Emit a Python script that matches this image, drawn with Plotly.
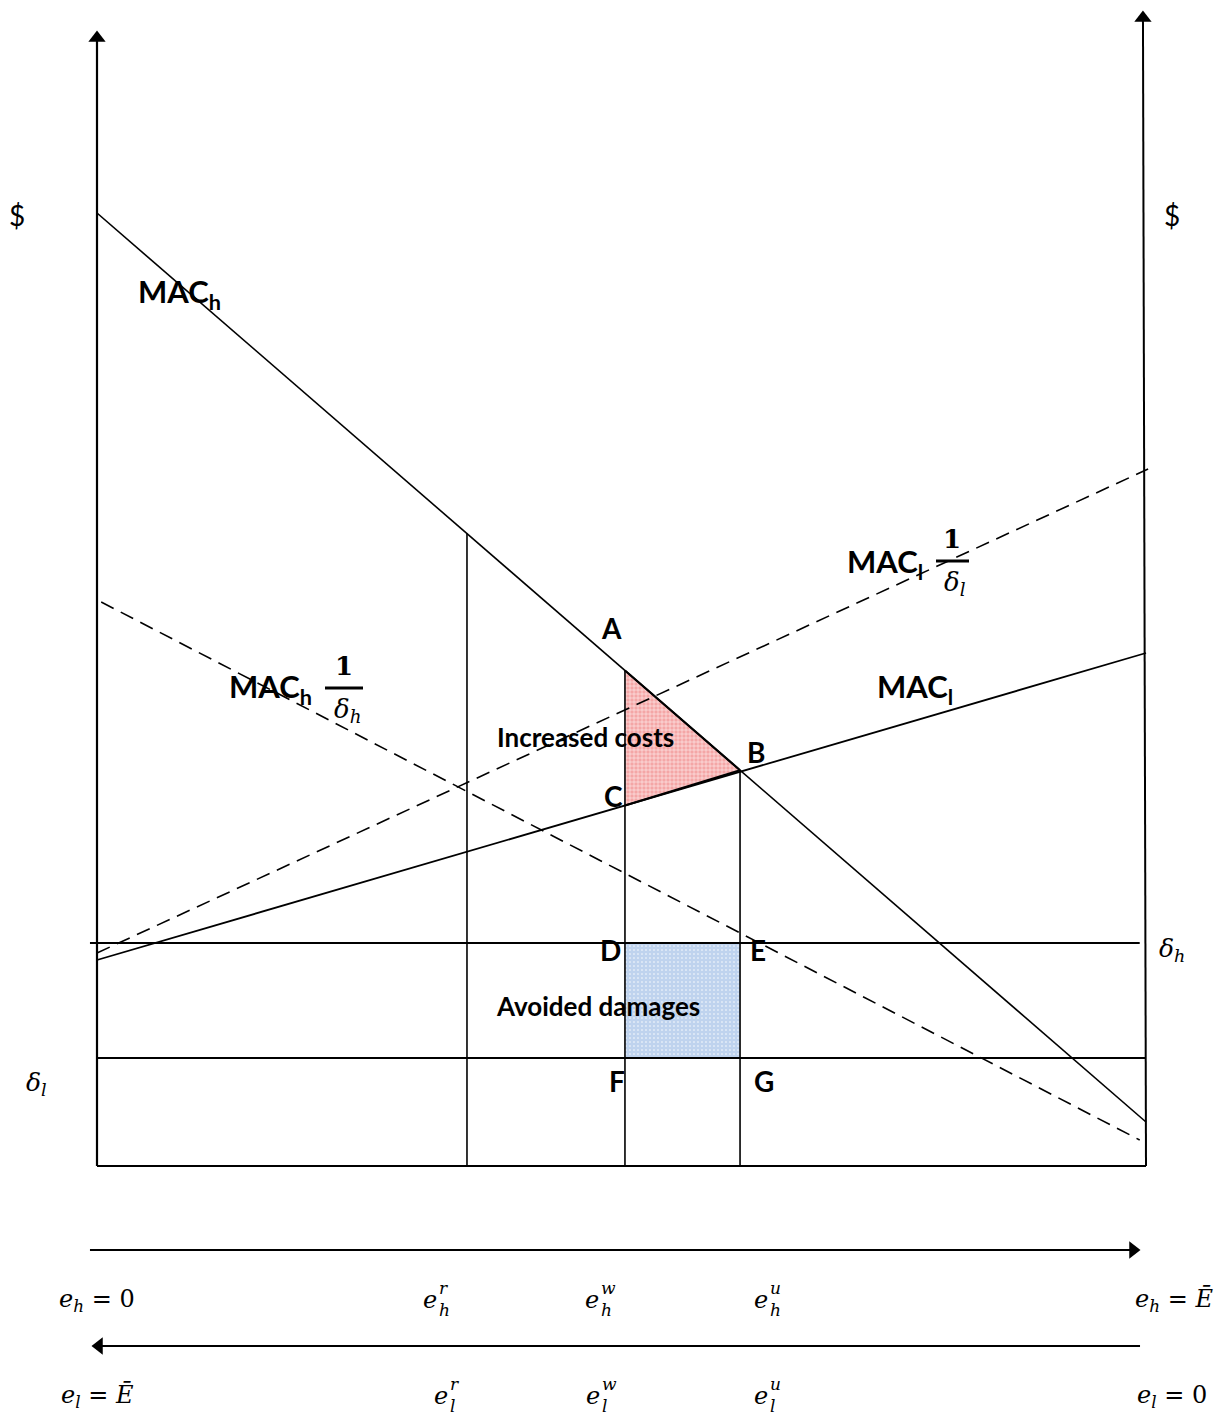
import plotly.graph_objects as go

W, H = 1229, 1422
PAGE_MARGIN = 8   # default body margin of the html page

# ---------------- data (economic units) ----------------
# x: emissions of high-damage source e_h, 0 .. 100 (= E-bar)
# y: dollars, 0 at the baseline
X_RANGE = [-8.484, 108.675]
Y_RANGE = [-26.4, 115.8]

E_R, E_W, E_U = 35.27, 50.33, 61.3          # e^r, e^w, e^u
MAC_H_X, MAC_H_Y = [0, 100], [95.3, 4.4]        # MAC_h
MAC_L_X, MAC_L_Y = [0, 100], [20.6, 51.3]       # MAC_l
MAC_L_ADJ_X, MAC_L_ADJ_Y = [0, 100.2], [21.3, 69.7]   # MAC_l / delta_l
MAC_H_ADJ_X, MAC_H_ADJ_Y = [0.4, 99.4], [56.4, 2.6]   # MAC_h / delta_h
DELTA_H, DELTA_L = 22.3, 10.8
DELTA_H_X = [-0.67, 99.4]
X_MAX = 100

LEFT_AXIS_TOP = 112.8
RIGHT_AXIS_TOP_X, RIGHT_AXIS_TOP = 99.71, 114.8
ARROW_H_Y, ARROW_L_Y = -8.4, -18.0
ARROW_H_X = [-0.67, 98.76]
ARROW_L_X = [99.43, 0.19]


def lin(xs, ys, x):
    return ys[0] + (ys[1] - ys[0]) * (x - xs[0]) / (xs[1] - xs[0])


A = (E_W, lin(MAC_H_X, MAC_H_Y, E_W))
B = (E_U, lin(MAC_H_X, MAC_H_Y, E_U))
C = (E_W, lin(MAC_L_X, MAC_L_Y, E_W))
R_TOP = lin(MAC_H_X, MAC_H_Y, E_R)

BLACK = "black"
fig = go.Figure()


def line(xs, ys, width=1.5, dash=None):
    fig.add_trace(go.Scatter(x=xs, y=ys, mode="lines",
                             line=dict(color=BLACK, width=width, dash=dash),
                             hoverinfo="skip"))


# shaded areas
fig.add_trace(go.Scatter(x=[A[0], B[0], C[0], A[0]], y=[A[1], B[1], C[1], A[1]],
                         mode="lines", fill="toself", line=dict(width=0),
                         fillcolor="#F4A8A8",
                         fillpattern=dict(shape="+", bgcolor="#F4A6A6", fgcolor="white",
                                          size=4, solidity=0.22, fillmode="replace"),
                         hoverinfo="skip"))
fig.add_trace(go.Scatter(x=[E_W, E_U, E_U, E_W, E_W], y=[DELTA_H, DELTA_H, DELTA_L, DELTA_L, DELTA_H],
                         mode="lines", fill="toself", line=dict(width=0),
                         fillcolor="#C3D6EF",
                         fillpattern=dict(shape=".", bgcolor="#BFD3EE", fgcolor="white",
                                          size=4, solidity=0.12, fillmode="replace"),
                         hoverinfo="skip"))

# axes
line([0, 0], [0, LEFT_AXIS_TOP], width=2.2)
line([X_MAX, RIGHT_AXIS_TOP_X], [0, RIGHT_AXIS_TOP], width=2.0)
line([0, X_MAX], [0, 0], width=2.0)
# curves
line(MAC_H_X, MAC_H_Y, 1.6)
line(MAC_L_X, MAC_L_Y, 1.8)
line(MAC_L_ADJ_X, MAC_L_ADJ_Y, 1.6, dash="14px,8px")
line(MAC_H_ADJ_X, MAC_H_ADJ_Y, 1.6, dash="14px,8px")
# horizontal delta lines
line(DELTA_H_X, [DELTA_H, DELTA_H], 1.8)
line([0, X_MAX], [DELTA_L, DELTA_L], 1.8)
# verticals
line([E_R, E_R], [0, R_TOP], 1.6)
line([E_W, E_W], [0, A[1]], 1.6)
line([E_U, E_U], [0, B[1]], 1.6)
# triangle edges
line([A[0], B[0]], [A[1], B[1]], 2.2)
line([C[0], B[0]], [C[1], B[1]], 2.2)
# rectangle edges
line([E_W, E_U], [DELTA_H, DELTA_H], 2.0)
line([E_W, E_U], [DELTA_L, DELTA_L], 2.0)
# bottom arrows
line(ARROW_H_X, [ARROW_H_Y, ARROW_H_Y], 2.0)
line(ARROW_L_X, [ARROW_L_Y, ARROW_L_Y], 2.0)

# arrow heads
heads_x = [0, RIGHT_AXIS_TOP_X, ARROW_H_X[1], ARROW_L_X[1]]
heads_y = [LEFT_AXIS_TOP, RIGHT_AXIS_TOP, ARROW_H_Y, ARROW_L_Y]
heads_s = ["triangle-up", "triangle-up", "triangle-right", "triangle-left"]
fig.add_trace(go.Scatter(x=heads_x, y=heads_y, mode="markers",
                         marker=dict(symbol=heads_s, size=15, color=BLACK, line=dict(width=0)),
                         hoverinfo="skip"))

# ---------------- text ----------------
SANS = "Lato"
SERIF = "DejaVu Serif"
ann = []


def px(xp):
    return (xp - PAGE_MARGIN) / W


def py(yp):
    return 1 - (yp - PAGE_MARGIN) / H


def label(text, xp, yp, size=22, family=SANS, xanchor="center", color=BLACK):
    ann.append(dict(text=text, x=px(xp), y=py(yp), xref="paper", yref="paper",
                    xanchor=xanchor, yanchor="middle", showarrow=False,
                    font=dict(family=family, size=size, color=color)))


def b(t):
    return "<b>" + t + "</b>"


def it(t):
    return "<i>" + t + "</i>"


# dollar signs
label("$", 17, 215, 28)
label("$", 1172, 215, 28)

# curve labels
label(b("MAC<sub>h</sub>"), 136, 293, 31, xanchor="left")
label(b("MAC<sub>l</sub>"), 875, 688, 31, xanchor="left")
label(b("MAC<sub>h</sub>"), 227, 688, 31, xanchor="left")
label(b("MAC<sub>l</sub>"), 845, 563, 31, xanchor="left")


def frac(xc, ytop, sub):
    label(b("1"), xc, ytop, 26, SERIF)
    label(it("δ") + "<sub>" + it(sub) + "</sub>", xc + 3, ytop + 44, 26, SERIF)


frac(344, 666, "h")
frac(952, 539, "l")
FRAC_BARS = [(325, 363, 688), (936, 969, 561)]
shapes = []
for x0, x1, yb in FRAC_BARS:
    shapes.append(dict(type="line", xref="paper", yref="paper",
                       x0=px(x0), x1=px(x1), y0=py(yb), y1=py(yb),
                       line=dict(color=BLACK, width=3)))

# point labels
for t, xp, yp in [("A", 611, 628), ("B", 756, 752), ("C", 613, 796), ("D", 610, 950),
                  ("E", 758, 950), ("F", 617, 1081), ("G", 764, 1081)]:
    label(b(t), xp, yp, 28)

label(b("Increased costs"), 585, 737, 26)
label(b("Avoided damages"), 598, 1006, 26)

# delta labels
label(it("δ") + "<sub>" + it("h") + "</sub>", 1172, 950, 25, SERIF)
label(it("δ") + "<sub>" + it("l") + "</sub>", 36, 1084, 25, SERIF)

# bottom labels
MS = 24
label(it("e") + "<sub>" + it("h") + "</sub> = 0", 57, 1300, MS, SERIF, xanchor="left")
label(it("e") + "<sub>" + it("h") + "</sub> = " + it("Ē"), 1133, 1300, MS, SERIF, xanchor="left")
label(it("e") + "<sub>" + it("l") + "</sub> = " + it("Ē"), 59, 1396, MS, SERIF, xanchor="left")
label(it("e") + "<sub>" + it("l") + "</sub> = 0", 1135, 1396, MS, SERIF, xanchor="left")


def stacked(xl, yc, sup, sub):
    label(it("e"), xl, yc, MS, SERIF, xanchor="left")
    label(it(sup), xl + 16, yc - 12, 17, SERIF, xanchor="left")
    label(it(sub), xl + 16, yc + 10, 17, SERIF, xanchor="left")


for xl, sup in [(421, "r"), (583, "w"), (752, "u")]:
    stacked(xl, 1300, sup, "h")
for xl, sup in [(432, "r"), (584, "w"), (752, "u")]:
    stacked(xl, 1396, sup, "l")

fig.update_layout(
    width=W, height=H, margin=dict(l=0, r=0, t=0, b=0),
    paper_bgcolor="white", plot_bgcolor="white", showlegend=False,
    xaxis=dict(range=X_RANGE, visible=False, fixedrange=True),
    yaxis=dict(range=Y_RANGE, visible=False, fixedrange=True),
    annotations=ann, shapes=shapes,
)
fig.write_html("out.html")
